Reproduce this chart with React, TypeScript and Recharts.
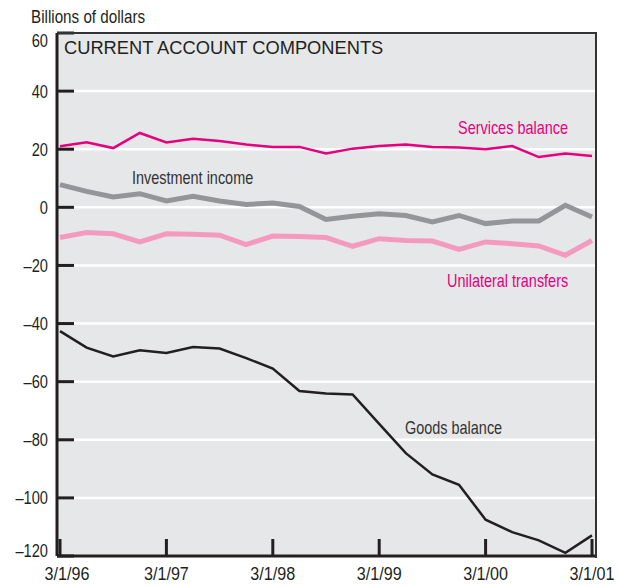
import { CartesianGrid, Line, LineChart, XAxis, YAxis } from "recharts";

const SANS = '"Liberation Sans", Arial, Helvetica, sans-serif';
const INK = "#231f20";

const dates = [
  "3/1/96", "6/1/96", "9/1/96", "12/1/96",
  "3/1/97", "6/1/97", "9/1/97", "12/1/97",
  "3/1/98", "6/1/98", "9/1/98", "12/1/98",
  "3/1/99", "6/1/99", "9/1/99", "12/1/99",
  "3/1/00", "6/1/00", "9/1/00", "12/1/00",
  "3/1/01",
];

const services = [21.0, 22.4, 20.4, 25.6, 22.3, 23.6, 22.8, 21.6, 20.8, 20.8, 18.5, 20.2, 21.1, 21.6, 20.8, 20.6, 20.0, 21.1, 17.3, 18.5, 17.7];
const investment = [7.8, 5.5, 3.6, 4.7, 2.2, 3.8, 2.2, 1.0, 1.5, 0.3, -4.2, -3.1, -2.2, -2.8, -5.0, -2.8, -5.6, -4.7, -4.7, 0.7, -3.3];
const unilateral = [-10.4, -8.7, -9.1, -11.9, -9.1, -9.3, -9.6, -12.8, -9.9, -10.0, -10.4, -13.4, -10.8, -11.4, -11.6, -14.5, -11.9, -12.5, -13.3, -16.5, -11.4];
const goods = [-42.6, -48.3, -51.3, -49.2, -50.1, -48.1, -48.6, -51.9, -55.5, -63.2, -64.1, -64.4, -74.5, -84.6, -91.9, -95.5, -107.5, -111.8, -114.6, -118.9, -112.9];

const yTicks = [-120, -100, -80, -60, -40, -20, 0, 20, 40, 60];

const data = dates.map((date, i) => ({
  date,
  services: services[i],
  investment: investment[i],
  unilateral: unilateral[i],
  goods: goods[i],
}));

const fmt = (v: number) => (v < 0 ? "\u2013" + Math.abs(v) : String(v));

function YTick({ x, y, payload }: any) {
  const v = payload.value;
  let by = y + 6.5;
  if (v === 60) by = y + 14;
  if (v === -120) by = y + 1;
  const ax = x + 9;
  return (
    <g>
      <line x1={ax} x2={ax + 17} y1={y} y2={y} stroke={INK} strokeWidth={3} />
      <text transform={`translate(${x},${by}) scale(0.77,1)`} textAnchor="end" fontSize={19} fill={INK} fontFamily={SANS}>
        {fmt(v)}
      </text>
    </g>
  );
}

function XTick({ x, y, payload }: any) {
  const first = payload.value === dates[0];
  return (
    <g>
      <line x1={x} x2={x} y1={y - 17} y2={y} stroke={INK} strokeWidth={3} />
      <text
        transform={`translate(${x + (first ? 7 : 0)},${y + 24}) scale(0.85,1)`}
        textAnchor="middle"
        fontSize={19}
        fill={INK}
        fontFamily={SANS}
      >
        {payload.value}
      </text>
    </g>
  );
}

const label = (text: string, left: number, top: number, color: string, sx = 0.76, size = 19) => (
  <div
    style={{
      position: "absolute",
      left,
      top,
      fontSize: size,
      lineHeight: `${size}px`,
      fontFamily: SANS,
      color,
      whiteSpace: "nowrap",
      transform: `scaleX(${sx})`,
      transformOrigin: "0 0",
    }}
  >
    {text}
  </div>
);

export default function App() {
  return (
    <div style={{ position: "absolute", left: 0, top: 0, width: 620, height: 586, background: "#fff" }}>
      <LineChart width={620} height={586} data={data} margin={{ top: 33, right: 25, bottom: 0, left: 0 }}>
        <CartesianGrid vertical={false} stroke="#ffffff" strokeWidth={2.5} fill="#e6e7e8" fillOpacity={1} />
        <XAxis
          dataKey="date"
          interval={3}
          padding={{ left: 3, right: 3 }}
          height={30}
          tickSize={0}
          tickMargin={0}
          tickLine={false}
          axisLine={{ stroke: INK, strokeWidth: 3 }}
          tick={<XTick />}
        />
        <YAxis
          domain={[-120, 60]}
          ticks={yTicks}
          interval={0}
          width={57}
          tickSize={0}
          tickMargin={9}
          tickLine={false}
          axisLine={{ stroke: INK, strokeWidth: 3 }}
          tick={<YTick />}
        />
        <Line dataKey="goods" stroke={INK} strokeWidth={2.5} dot={false} isAnimationActive={false} />
        <Line dataKey="unilateral" stroke="#f49ac1" strokeWidth={5} dot={false} isAnimationActive={false} />
        <Line dataKey="investment" stroke="#939598" strokeWidth={5} dot={false} isAnimationActive={false} />
        <Line dataKey="services" stroke="#e6007e" strokeWidth={2.5} dot={false} isAnimationActive={false} />
      </LineChart>
      <div
        style={{
          position: "absolute",
          left: 57,
          top: 32,
          width: 538,
          height: 524,
          borderTop: "2px solid #333",
          borderRight: "2px solid #333",
          pointerEvents: "none",
        }}
      />
      {label("Billions of dollars", 31, 7, INK, 0.8)}
      {label("CURRENT ACCOUNT COMPONENTS", 64, 39, INK, 1, 18.3)}
      {label("Services balance", 458, 118, "#e6007e")}
      {label("Investment income", 132, 168, "#333333")}
      {label("Unilateral transfers", 447, 271, "#e6007e")}
      {label("Goods balance", 405, 418, "#333333")}
    </div>
  );
}
